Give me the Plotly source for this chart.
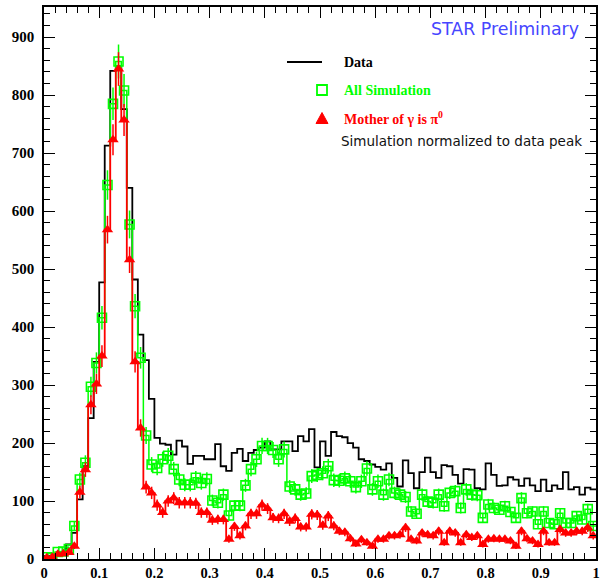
import numpy as np
import plotly.graph_objects as go

# ---- data (100 bins, 0..1, width 0.01) ----
bin_lo, bin_hi, n_bins = 0.0, 1.0, 100

data_counts = [5, 3, 8, 12, 25, 45, 103, 160, 243, 340,
               477, 713, 842, 850, 776, 640, 482, 387, 343, 276,
               209, 199, 197, 180, 204, 194, 164, 178, 178, 172,
               172, 198, 160, 152, 183, 190, 169, 183, 188, 192,
               203, 189, 189, 203, 203, 186, 212, 203, 224, 158,
               203, 178, 219, 212, 210, 200, 192, 172, 169, 163,
               159, 154, 165, 140, 125, 170, 148, 122, 150, 175,
               150, 140, 162, 160, 145, 130, 155, 154, 122, 120,
               165, 145, 126, 127, 141, 137, 126, 139, 127, 117,
               137, 117, 127, 121, 150, 120, 124, 111, 123, 120]

all_sim = [3, 2, 12, 13, 17, 57, 137, 166, 297, 338,
           416, 645, 785, 858, 808, 577, 436, 347, 213, 163,
           157, 172, 178, 155, 137, 128, 128, 140, 131, 138,
           101, 97, 111, 75, 92, 92, 127, 155, 172, 195,
           195, 188, 172, 189, 125, 120, 111, 113, 143, 145,
           148, 160, 136, 135, 139, 134, 124, 134, 156, 120,
           134, 111, 137, 114, 111, 107, 82, 78, 111, 99,
           97, 111, 91, 114, 117, 88, 120, 111, 110, 71,
           94, 88, 85, 91, 81, 71, 105, 79, 82, 60,
           82, 62, 60, 79, 62, 62, 74, 68, 86, 57]

mother_pi0 = [2, 3, 8, 9, 11, 22, 115, 154, 266, 302,
              350, 568, 723, 845, 757, 516, 340, 226, 124, 114,
              93, 80, 100, 105, 97, 97, 97, 96, 80, 80,
              67, 68, 68, 34, 56, 40, 57, 78, 78, 93,
              87, 71, 70, 78, 65, 70, 55, 55, 77, 76,
              58, 74, 57, 48, 46, 35, 26, 33, 28, 22,
              34, 34, 40, 40, 42, 54, 34, 31, 45, 42,
              40, 48, 28, 48, 45, 28, 42, 37, 40, 25,
              34, 35, 34, 34, 31, 22, 48, 35, 31, 25,
              48, 28, 28, 51, 45, 45, 48, 48, 54, 40]

x_tickvals = [0, 0.1, 0.2, 0.3, 0.4, 0.5, 0.6, 0.7, 0.8, 0.9, 1.0]
x_ticktext = ["0", "0.1", "0.2", "0.3", "0.4", "0.5", "0.6", "0.7", "0.8", "0.9", "1"]
y_tickvals = [0, 100, 200, 300, 400, 500, 600, 700, 800, 900]
y_ticktext = ["0", "100", "200", "300", "400", "500", "600", "700", "800", "900"]

edges = np.linspace(bin_lo, bin_hi, n_bins + 1)
centers = 0.5 * (edges[:-1] + edges[1:])

BLACK = "#000000"
GREEN = "#00ff00"
RED = "#ff0000"
BLUE = "#4646ff"
SERIF = "Liberation Serif"
SANS = "DejaVu Sans"
Y_MAX = 952


def step_y(vals):
    return list(vals) + [vals[-1]]


fig = go.Figure()

# Data histogram
fig.add_trace(go.Scatter(x=edges, y=step_y(data_counts), mode="lines",
                         line=dict(color=BLACK, width=1.8, shape="hv"),
                         showlegend=False, hoverinfo="skip"))

# All simulation
fig.add_trace(go.Scatter(x=edges, y=step_y(all_sim), mode="lines",
                         line=dict(color=GREEN, width=1.5, shape="hv"),
                         showlegend=False, hoverinfo="skip"))
fig.add_trace(go.Scatter(x=centers, y=all_sim, mode="markers",
                         marker=dict(symbol="square-open", size=9, color=GREEN,
                                     line=dict(color=GREEN, width=1.6)),
                         error_y=dict(type="sqrt", color=GREEN, thickness=1.5, width=0),
                         showlegend=False))

# Mother of gamma is pi0
fig.add_trace(go.Scatter(x=edges, y=step_y(mother_pi0), mode="lines",
                         line=dict(color=RED, width=1.8, shape="hv"),
                         showlegend=False, hoverinfo="skip"))
fig.add_trace(go.Scatter(x=centers, y=mother_pi0, mode="markers",
                         marker=dict(symbol="triangle-up", size=10, color=RED),
                         error_y=dict(type="sqrt", color=RED, thickness=1.5, width=0),
                         showlegend=False))

# invisible trace so the mirrored (top/right) axes are drawn
fig.add_trace(go.Scatter(x=[bin_lo], y=[0], xaxis="x2", yaxis="y2", mode="markers",
                         marker=dict(opacity=0), showlegend=False, hoverinfo="skip"))

W, H = 602, 580
ML, MR, MT, MB = 44, 6, 7, 21
PW, PH = W - ML - MR, H - MT - MB


def px(xp):
    return (xp - ML) / PW


def py(yp):
    return (H - MB - yp) / PH


xtickfont = dict(family=SERIF, size=14.5, color=BLACK, weight="bold")
ytickfont = dict(family=SERIF, size=15, color=BLACK, weight="bold")
axis_common = dict(showgrid=False, zeroline=False, showline=True, linecolor=BLACK,
                   linewidth=1.5, ticks="inside", ticklen=11, tickwidth=1.3,
                   tickcolor=BLACK, automargin=False)
xminor = dict(ticks="inside", ticklen=6, dtick=0.02, tickwidth=1.2, tickcolor=BLACK, showgrid=False)
yminor = dict(ticks="inside", ticklen=6, dtick=20, tickwidth=1.2, tickcolor=BLACK, showgrid=False)

fig.update_layout(
    xaxis=dict(range=[bin_lo, bin_hi], tickvals=x_tickvals, ticktext=x_ticktext,
               minor=xminor, tickfont=xtickfont, ticklabelstandoff=0, **axis_common),
    yaxis=dict(range=[0, Y_MAX], tickvals=y_tickvals, ticktext=y_ticktext,
               minor=yminor, tickfont=ytickfont, ticklabelstandoff=5, **axis_common),
    xaxis2=dict(range=[bin_lo, bin_hi], tickvals=x_tickvals, side="top", overlaying="x",
                anchor="y", minor=xminor, showticklabels=False, **axis_common),
    yaxis2=dict(range=[0, Y_MAX], tickvals=y_tickvals, side="right", overlaying="y",
                anchor="x", minor=yminor, showticklabels=False, **axis_common),
)

annotations = [
    dict(text="STAR Preliminary", x=px(581), y=py(29), xanchor="right", yanchor="middle",
         font=dict(family=SANS, size=17.4, color=BLUE)),
    dict(text="<b>Data</b>", x=px(342), y=py(62), xanchor="left", yanchor="middle",
         font=dict(family=SERIF, size=14, color=BLACK)),
    dict(text="<b>All Simulation</b>", x=px(342), y=py(90), xanchor="left", yanchor="middle",
         font=dict(family=SERIF, size=14, color=GREEN)),
    dict(text="<b>Mother of γ is π<sup>0</sup></b>", x=px(342), y=py(118), xanchor="left",
         yanchor="middle", font=dict(family=SERIF, size=14, color=RED)),
    dict(text="Simulation normalized to data peak", x=px(339), y=py(141), xanchor="left",
         yanchor="middle", font=dict(family=SANS, size=13.5, color="#111111")),
]
for a in annotations:
    a.update(xref="paper", yref="paper", showarrow=False)

hx, hy = 5.0 / PW, 5.0 / PH
tx, ty = 6.0 / PW, 5.5 / PH
shapes = [
    dict(type="line", x0=px(287), x1=px(322), y0=py(62), y1=py(62),
         line=dict(color=BLACK, width=1.8)),
    dict(type="rect", x0=px(322) - hx, x1=px(322) + hx, y0=py(90) - hy, y1=py(90) + hy,
         line=dict(color=GREEN, width=1.8)),
    dict(type="path",
         path=f"M {px(322)-tx},{py(118)-ty} L {px(322)+tx},{py(118)-ty} L {px(322)},{py(118)+ty} Z",
         fillcolor=RED, line=dict(color=RED, width=1)),
]
for s in shapes:
    s.update(xref="paper", yref="paper")

fig.update_layout(width=W, height=H, margin=dict(l=ML, r=MR, t=MT, b=MB),
                  plot_bgcolor="white", paper_bgcolor="white",
                  annotations=annotations, shapes=shapes, showlegend=False)

fig.write_html("out.html", config={"displayModeBar": False},
               post_script="document.body.style.margin='0';document.body.style.overflow='hidden';")
